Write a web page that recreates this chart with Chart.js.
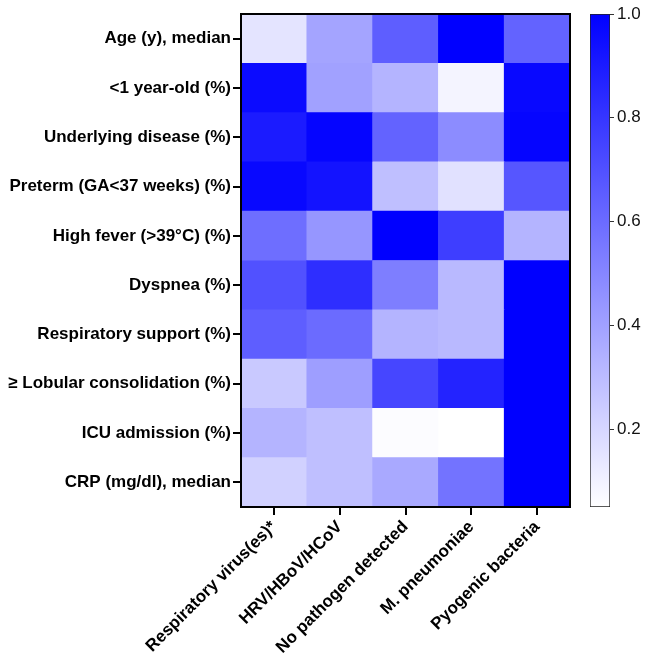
<!DOCTYPE html>
<html>
<head>
<meta charset="utf-8">
<script src="https://cdn.jsdelivr.net/npm/chart.js@4"></script>
<style>
  body { margin: 0; background: #fff; }
  #wrap { position: relative; width: 650px; height: 657px; }
  #heat { position: absolute; left: 0; top: 0; }
  #scaleBar { position: absolute; left: 570px; top: 0; }
</style>
</head>
<body>
<div id="wrap">
  <canvas id="heat" width="650" height="657"></canvas>
  <canvas id="scaleBar" width="80" height="657"></canvas>
</div>
<script>
// rows top -> bottom
var rowLabels = ['Age (y), median', '<1 year-old (%)', 'Underlying disease (%)', 'Preterm (GA<37 weeks) (%)',
    'High fever (>39°C) (%)', 'Dyspnea (%)', 'Respiratory support (%)', '≥ Lobular consolidation (%)',
    'ICU admission (%)', 'CRP (mg/dl), median'];
var groups = ['Respiratory virus(es)*', 'HRV/HBoV/HCoV', 'No pathogen detected', 'M. pneumoniae', 'Pyogenic bacteria'];

// one array per group, same order as rowLabels
var respVirus   = [0.15, 0.96, 0.90, 0.97, 0.59, 0.70, 0.65, 0.25, 0.33, 0.22];
var hrvGroup    = [0.39, 0.40, 0.98, 0.93, 0.44, 0.83, 0.60, 0.41, 0.29, 0.29];
var noPathogen  = [0.65, 0.33, 0.63, 0.29, 1.00, 0.53, 0.33, 0.74, 0.06, 0.37];
var mPneumoniae = [1.00, 0.09, 0.48, 0.16, 0.77, 0.31, 0.31, 0.87, 0.05, 0.57];
var pyogenic    = [0.63, 0.97, 0.98, 0.68, 0.33, 1.00, 1.00, 1.00, 1.00, 1.00];

var scaleMin = 0.05, scaleMax = 1.0;
var scaleTicks = [0.2, 0.4, 0.6, 0.8, 1.0];

Chart.defaults.font.family = '"Liberation Sans", Arial, sans-serif';
Chart.defaults.color = '#111';

function heatColor(v) {
    var t = (v - scaleMin) / (scaleMax - scaleMin);
    t = Math.max(0, Math.min(1, t));
    var c = Math.round(255 * (1 - t));
    return 'rgb(' + c + ',' + c + ',255)';
}

var columns = [respVirus, hrvGroup, noPathogen, mPneumoniae, pyogenic];
var nRows = rowLabels.length;

// stacked bars: dataset 0 is the bottom row
var datasets = [];
for (var k = 0; k < nRows; k++) {
    var r = nRows - 1 - k;
    datasets.push({
        label: rowLabels[r],
        data: groups.map(function () { return 1; }),
        backgroundColor: columns.map(function (col) { return heatColor(col[r]); }),
        borderWidth: 0,
        barPercentage: 1,
        categoryPercentage: 1
    });
}

var framePlugin = {
    id: 'frame',
    afterDatasetsDraw: function (chart) {
        var a = chart.chartArea, ctx = chart.ctx;
        ctx.save();
        ctx.strokeStyle = '#000';
        ctx.lineWidth = 2;
        ctx.strokeRect(a.left, a.top, a.right - a.left, a.bottom - a.top);
        ctx.restore();
    }
};

new Chart(document.getElementById('heat'), {
    type: 'bar',
    data: { labels: groups, datasets: datasets },
    options: {
        responsive: false,
        animation: false,
        layout: { padding: { top: 14, right: 80, left: 0, bottom: 0 } },
        plugins: { legend: { display: false }, tooltip: { enabled: false } },
        scales: {
            x: {
                stacked: true,
                border: { display: false },
                grid: { display: true, drawOnChartArea: false, offset: false, tickLength: 8, color: '#000', lineWidth: 2 },
                ticks: { minRotation: 45, maxRotation: 45, autoSkip: false, padding: 2, color: '#000',
                    font: { size: 17, weight: 'bold' } },
                afterFit: function (s) { s.height = 150; }
            },
            y: {
                stacked: true,
                min: 0,
                max: nRows,
                border: { display: false },
                grid: { display: true, drawOnChartArea: false, tickLength: 8, color: '#000', lineWidth: 2 },
                afterBuildTicks: function (s) {
                    s.ticks = rowLabels.map(function (_, i) { return { value: i + 0.5 }; });
                },
                ticks: {
                    autoSkip: false,
                    padding: 2,
                    color: '#000',
                    font: { size: 17, weight: 'bold' },
                    callback: function (v) { return rowLabels[nRows - 1 - Math.floor(v)]; }
                },
                afterFit: function (s) { s.width = 241; }
            }
        }
    },
    plugins: [framePlugin]
});

// colour scale
new Chart(document.getElementById('scaleBar'), {
    type: 'bar',
    data: {
        labels: [''],
        datasets: [{
            data: [[scaleMin, scaleMax]],
            barPercentage: 1,
            categoryPercentage: 1,
            borderWidth: 1,
            borderColor: '#222',
            borderSkipped: false,
            backgroundColor: function (ctx) {
                var chart = ctx.chart, y = chart.scales.y;
                if (!chart.chartArea || !y) return heatColor(scaleMax);
                var y0 = y.getPixelForValue(scaleMin), y1 = y.getPixelForValue(scaleMax);
                if (!isFinite(y0) || !isFinite(y1)) return heatColor(scaleMax);
                var g = chart.ctx.createLinearGradient(0, y0, 0, y1);
                g.addColorStop(0, heatColor(scaleMin));
                g.addColorStop(1, heatColor(scaleMax));
                return g;
            }
        }]
    },
    options: {
        responsive: false,
        animation: false,
        layout: { padding: { top: 14, left: 20, right: 0, bottom: 150 } },
        plugins: { legend: { display: false }, tooltip: { enabled: false } },
        scales: {
            x: { display: false },
            y: {
                position: 'right',
                min: scaleMin,
                max: scaleMax,
                border: { display: false },
                grid: { display: true, drawOnChartArea: false, tickLength: 4, color: '#333', lineWidth: 1 },
                afterBuildTicks: function (s) {
                    s.ticks = scaleTicks.map(function (v) { return { value: v }; });
                },
                ticks: {
                    padding: 3,
                    color: '#111',
                    font: { size: 17 },
                    callback: function (v) { return v.toFixed(1); }
                },
                afterFit: function (s) { s.width = 40; }
            }
        }
    }
});
</script>
</body>
</html>
